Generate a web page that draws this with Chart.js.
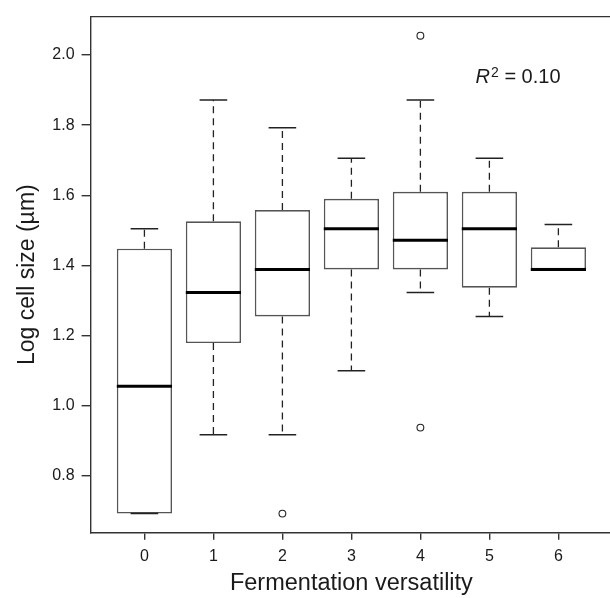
<!DOCTYPE html>
<html>
<head>
<meta charset="utf-8">
<script src="https://cdn.jsdelivr.net/npm/chart.js@4.4.0/dist/chart.umd.min.js"></script>
<style>
    html, body { margin: 0; padding: 0; background: #fff; overflow: hidden; }
    #wrap { width: 620px; height: 598px; }
</style>
</head>
<body>
<div id="wrap"><canvas id="box-chart" width="620" height="598"></canvas></div>
<script>
// --- Data ---
const categories = [0, 1, 2, 3, 4, 5, 6];
const whiskerLow = [0.693, 0.918, 0.918, 1.100, 1.323, 1.255, 1.389];
const q1 = [0.693, 1.179, 1.255, 1.389, 1.389, 1.337, 1.389];
const medians = [1.056, 1.323, 1.389, 1.505, 1.472, 1.505, 1.389];
const q3 = [1.448, 1.526, 1.558, 1.590, 1.610, 1.610, 1.452];
const whiskerHigh = [1.505, 1.872, 1.793, 1.706, 1.872, 1.706, 1.517];
const outlierX = [2, 4, 4];
const outlierY = [0.693, 2.055, 0.938];
const yTicks = [0.8, 1.0, 1.2, 1.4, 1.6, 1.8, 2.0];
const annotation = { x: 4.8, y: 1.919, sup: '2', text: ' = 0.10' };

(function () {
    const FONT = "'Liberation Sans', Arial, Helvetica, sans-serif";
    const INK = '#1a1a1a';

    // R-style axis limits: data range stretched by 4% on each side
    const allY = whiskerLow.concat(whiskerHigh, outlierY);
    const lo = Math.min.apply(null, allY);
    const hi = Math.max.apply(null, allY);
    const ext = (hi - lo) * 0.04;
    const xExt = categories.length * 0.04;

    // whiskers, staples, medians, the frame and the R^2 note
    const boxPlugin = {
        id: 'boxExtras',
        afterDatasetsDraw(chart) {
            const { ctx, chartArea, scales: { x, y } } = chart;
            ctx.save();

            // frame (top and right)
            ctx.strokeStyle = '#333';
            ctx.lineWidth = 1.4;
            ctx.beginPath();
            ctx.moveTo(chartArea.left, chartArea.top);
            ctx.lineTo(chartArea.right, chartArea.top);
            ctx.lineTo(chartArea.right, chartArea.bottom);
            ctx.stroke();

            categories.forEach(function (c, i) {
                const cx = x.getPixelForValue(c);
                const capHalf = x.getPixelForValue(c + 0.2) - cx;
                const boxHalf = x.getPixelForValue(c + 0.4) - cx;

                // dashed whiskers
                ctx.strokeStyle = '#222';
                ctx.lineWidth = 1.3;
                ctx.setLineDash([7, 5]);
                ctx.beginPath();
                ctx.moveTo(cx, y.getPixelForValue(q3[i]));
                ctx.lineTo(cx, y.getPixelForValue(whiskerHigh[i]));
                ctx.moveTo(cx, y.getPixelForValue(q1[i]));
                ctx.lineTo(cx, y.getPixelForValue(whiskerLow[i]));
                ctx.stroke();
                ctx.setLineDash([]);

                // staples
                ctx.lineWidth = 1.5;
                ctx.beginPath();
                [whiskerHigh[i], whiskerLow[i]].forEach(function (v) {
                    const py = y.getPixelForValue(v);
                    ctx.moveTo(cx - capHalf, py);
                    ctx.lineTo(cx + capHalf, py);
                });
                ctx.stroke();

                // median
                ctx.strokeStyle = '#000';
                ctx.lineWidth = 3;
                const my = y.getPixelForValue(medians[i]);
                ctx.beginPath();
                ctx.moveTo(cx - boxHalf, my);
                ctx.lineTo(cx + boxHalf, my);
                ctx.stroke();
            });

            // R^2 = 0.10
            const ax = x.getPixelForValue(annotation.x);
            const ay = y.getPixelForValue(annotation.y);
            ctx.fillStyle = INK;
            ctx.textBaseline = 'alphabetic';
            ctx.textAlign = 'left';
            ctx.font = 'italic 20px ' + FONT;
            ctx.fillText('R', ax, ay);
            let cursor = ax + ctx.measureText('R').width + 1;
            ctx.font = '14px ' + FONT;
            ctx.fillText(annotation.sup, cursor, ay - 6);
            cursor += ctx.measureText(annotation.sup).width;
            ctx.font = '20px ' + FONT;
            ctx.fillText(annotation.text, cursor, ay);

            ctx.restore();
        }
    };

    const boxData = categories.map(function (c, i) {
        return { x: c, y: [q1[i], q3[i]] };
    });
    const outlierData = outlierX.map(function (c, i) {
        return { x: c, y: outlierY[i] };
    });

    const config = {
        type: 'bar',
        data: {
            datasets: [{
                type: 'scatter',
                data: outlierData,
                pointRadius: 3.4,
                pointBorderWidth: 1.1,
                pointBorderColor: '#222',
                pointBackgroundColor: '#fff'
            }, {
                type: 'bar',
                data: boxData,
                backgroundColor: '#fff',
                borderColor: '#555',
                borderWidth: 1.6,
                borderSkipped: false,
                categoryPercentage: 0.8,
                barPercentage: 1.0
            }]
        },
        options: {
            responsive: false,
            devicePixelRatio: 1,
            animation: false,
            layout: { padding: { left: 0, top: 11.7, right: 7.8, bottom: 0 } },
            plugins: { legend: { display: false }, tooltip: { enabled: false } },
            scales: {
                x: {
                    type: 'linear',
                    offset: false,
                    min: categories[0] - 0.5 - xExt,
                    max: categories[categories.length - 1] + 0.5 + xExt,
                    afterBuildTicks: function (scale) {
                        scale.ticks = categories.map(function (v) { return { value: v }; });
                    },
                    afterFit: function (scale) { scale.height = 65.3; },
                    grid: { offset: false, drawOnChartArea: false, drawTicks: true, tickLength: 7, color: '#333', lineWidth: 1.4 },
                    border: { display: true, color: '#333', width: 1.4 },
                    ticks: {
                        padding: 7,
                        color: INK,
                        font: { family: FONT, size: 16 },
                        maxRotation: 0,
                        callback: function (v) { return String(v); }
                    },
                    title: {
                        display: true,
                        text: 'Fermentation versatility',
                        color: INK,
                        font: { family: FONT, size: 23.5 },
                        padding: { top: 0, bottom: 0 }
                    }
                },
                y: {
                    min: lo - ext,
                    max: hi + ext,
                    afterBuildTicks: function (scale) {
                        scale.ticks = yTicks.map(function (v) { return { value: v }; });
                    },
                    afterFit: function (scale) { scale.width = 90.6; },
                    grid: { drawOnChartArea: false, drawTicks: true, tickLength: 9, color: '#333', lineWidth: 1.4 },
                    border: { display: true, color: '#333', width: 1.4 },
                    ticks: {
                        padding: 7,
                        color: INK,
                        font: { family: FONT, size: 16 },
                        callback: function (v) { return Number(v).toFixed(1); }
                    },
                    title: {
                        display: true,
                        text: 'Log cell size (µm)',
                        color: INK,
                        font: { family: FONT, size: 23 },
                        padding: { top: 14, bottom: 0 }
                    }
                }
            }
        },
        plugins: [boxPlugin]
    };

    new Chart(document.getElementById('box-chart'), config);
})();
</script>
</body>
</html>
